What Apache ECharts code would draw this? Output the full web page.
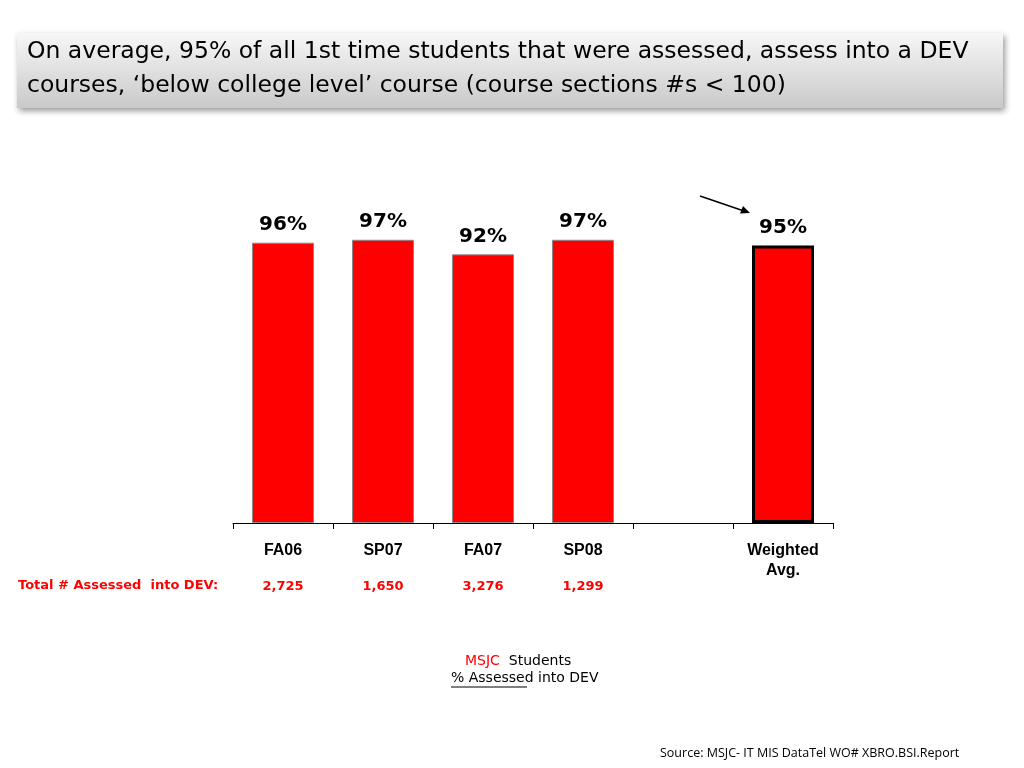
<!DOCTYPE html>
<html><head><meta charset="utf-8">
<script src="https://cdn.jsdelivr.net/npm/echarts@6/dist/echarts.min.js"></script>
<style>html,body{margin:0;padding:0;background:#fff;}#c{width:1024px;height:768px;}</style>
</head><body><div id="c"></div>
<script>
var categories = ['FA06', 'SP07', 'FA07', 'SP08', '', 'Weighted\nAvg.'];
var pctValues = [96, 97, 92, 97, null, 95];
var pctLabels = ['96%', '97%', '92%', '97%', '', '95%'];
var assessedCounts = ['2,725', '1,650', '3,276', '1,299', '', ''];
var titleText = 'On average, 95% of all 1st time students that were assessed, assess into a DEV\ncourses, \u2018below college level\u2019 course (course sections #s < 100)';

var comic = '"DejaVu Sans", sans-serif';
var chart = echarts.init(document.getElementById('c'));

var barData = pctValues.map(function (v, i) {
  if (v === null) return { value: null };
  var isAvg = i === pctValues.length - 1;
  return {
    value: v,
    itemStyle: isAvg ? { color: '#ff0000', borderColor: '#000', borderWidth: 3 } :
      { color: '#ff0000', borderColor: '#8a8a8a', borderWidth: 1 }
  };
});

chart.setOption({
  animation: false,
  grid: { left: 233, right: 191, top: 231, bottom: 245 },
  xAxis: [{
    type: 'category',
    data: categories,
    position: 'bottom',
    axisLine: { lineStyle: { color: '#000', width: 1 } },
    axisTick: { show: true, length: 6, inside: false, lineStyle: { color: '#000' } },
    axisLabel: { color: '#000', fontFamily: 'Arial, "Liberation Sans", sans-serif', fontWeight: 'bold', fontSize: 16, margin: 18, lineHeight: 20, interval: 0 }
  }, {
    type: 'category',
    data: assessedCounts,
    position: 'bottom',
    offset: 49,
    axisLine: { show: false },
    axisTick: { show: false },
    axisLabel: { color: '#ff0000', fontFamily: comic, fontWeight: 'bold', fontSize: 13, interval: 0 }
  }],
  yAxis: { type: 'value', min: 0, max: 100, show: false, splitLine: { show: false } },
  series: [{
    type: 'bar',
    data: barData,
    barWidth: 62,
    label: {
      show: true, position: 'top', distance: 8,
      formatter: function (p) { return pctLabels[p.dataIndex]; },
      color: '#000', fontFamily: comic, fontWeight: 'bold', fontSize: 20
    }
  }],
  graphic: [
    { type: 'rect', shape: { x: 17, y: 33, width: 986, height: 75 },
      style: { fill: new echarts.graphic.LinearGradient(0, 0, 0, 1, [{ offset: 0, color: '#f7f7f7' }, { offset: 1, color: '#c9c9c9' }]),
        shadowBlur: 6, shadowOffsetX: 2, shadowOffsetY: 3, shadowColor: 'rgba(0,0,0,0.4)' } },
    { type: 'text', left: 27, top: 35, style: { text: titleText, font: '23.5px ' + comic, fill: '#000', lineHeight: 34 } },
    { type: 'line', shape: { x1: 700, y1: 196, x2: 744, y2: 211 }, style: { stroke: '#000', lineWidth: 1.5 } },
    { type: 'polygon', shape: { points: [[750, 213], [740, 213.5], [743, 206]] }, style: { fill: '#000' } },
    { type: 'text', left: 18, top: 579, style: { text: 'Total # Assessed  into DEV:', font: 'bold 13px ' + comic, fill: '#ff0000' } },
    { type: 'text', left: 465, top: 654, style: { text: '{r|MSJC}  Students', font: '14px ' + comic, fill: '#000',
      rich: { r: { fill: '#ff0000', font: '14px ' + comic } } } },
    { type: 'text', left: 451, top: 671, style: { text: '% Assessed into DEV', font: '14px ' + comic, fill: '#000' } },
    { type: 'line', shape: { x1: 451, y1: 687, x2: 527, y2: 687 }, style: { stroke: '#000', lineWidth: 1 } },
    { type: 'text', left: 660, top: 747, style: { text: 'Source: MSJC- IT MIS DataTel WO# XBRO.BSI.Report', font: '12.5px "Open Sans", sans-serif', fill: '#000' } }
  ]
});
</script></body></html>
